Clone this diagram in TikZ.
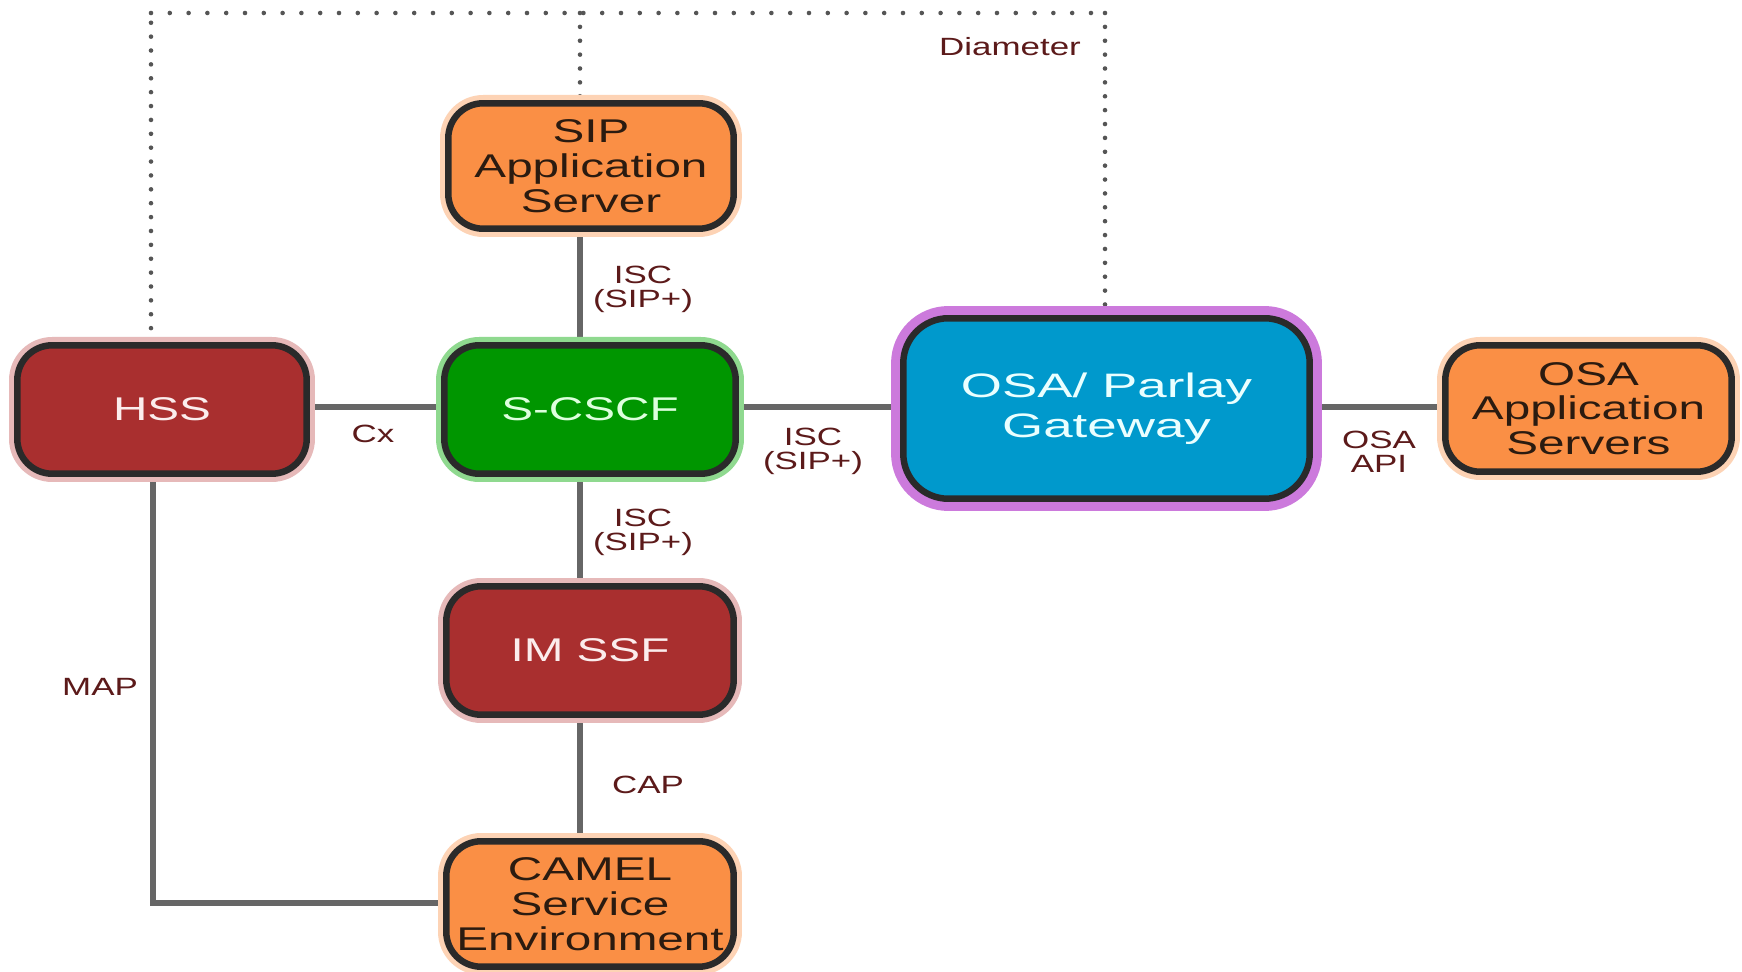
\documentclass[tikz,border=0pt]{standalone}
\usepackage{fontspec}
\setmainfont{Liberation Sans}
\newfontfamily\boxfont[FakeStretch=1.45]{Liberation Sans}
\newfontfamily\gwfont[FakeStretch=1.56]{Liberation Sans}
\newfontfamily\lblfont[FakeStretch=1.4]{Liberation Sans}
\usetikzlibrary{backgrounds}
\definecolor{bordercol}{HTML}{2A2A2A}
\definecolor{hssred}{HTML}{A92F2F}
\definecolor{hssglow}{HTML}{E6B9B9}
\definecolor{cscfgreen}{HTML}{009600}
\definecolor{greenglow}{HTML}{8FD98F}
\definecolor{asorange}{HTML}{FA8F45}
\definecolor{orangeglow}{HTML}{FDD3B5}
\definecolor{gwblue}{HTML}{0099CC}
\definecolor{gwpurple}{HTML}{CC7ADC}
\definecolor{linegray}{HTML}{666666}
\definecolor{dotgray}{HTML}{555555}
\definecolor{lblcol}{HTML}{5C1A1A}
\definecolor{lighttext}{HTML}{FBEDED}
\definecolor{greentext}{HTML}{DDFFDD}
\definecolor{bluetext}{HTML}{EAFFFF}
\definecolor{darktext}{HTML}{2B1B10}
\tikzset{
  boxbase/.style={rectangle, rounded corners=0.7cm, draw=bordercol, line width=3.7pt,
    inner sep=0pt, align=center, font=\boxfont\fontsize{18.7}{19.8}\selectfont},
  redbox/.style={boxbase, fill=hssred, text=lighttext,
    preaction={draw=hssglow, line width=9.4pt}},
  greenbox/.style={boxbase, fill=cscfgreen, text=greentext,
    preaction={draw=greenglow, line width=9.4pt}},
  orangebox/.style={boxbase, fill=asorange, text=darktext,
    preaction={draw=orangeglow, line width=9.4pt}},
  gwbox/.style={boxbase, rounded corners=0.9cm, fill=gwblue, text=bluetext,
    font=\gwfont\fontsize{19.3}{22.7}\selectfont,
    preaction={draw=gwpurple, line width=13.9pt}},
  link/.style={draw=linegray, line width=3.7pt},
  dotsH/.style={draw=dotgray, line width=2.6pt, line cap=round, dash pattern=on 0pt off 10.7pt},
  dotsV/.style={draw=dotgray, line width=2.6pt, line cap=round, dash pattern=on 0pt off 7.9pt},
  lbl/.style={inner sep=0pt, align=center, text=lblcol,
    font=\lblfont\fontsize{14.2}{13.6}\selectfont}
}
\begin{document}
\begin{tikzpicture}[x=0.02cm, y=-0.02cm]
\useasboundingbox (0,0) rectangle (1742,972);

\node[orangebox, minimum width=5.71cm, minimum height=2.51cm] (sip) at (591,166) {SIP\\Application\\Server};
\node[redbox, minimum width=5.79cm, minimum height=2.57cm] (hss) at (162,409.5) {HSS};
\node[greenbox, minimum width=5.83cm, minimum height=2.57cm] (scscf) at (590,409.5) {S-CSCF};
\node[gwbox, minimum width=8.13cm, minimum height=3.61cm] (gw) at (1106.5,408.5) {OSA/ Parlay\\Gateway};
\node[orangebox, minimum width=5.73cm, minimum height=2.53cm] (osaas) at (1588.5,408.5) {OSA\\Application\\Servers};
\node[redbox, minimum width=5.75cm, minimum height=2.57cm] (imssf) at (590,650.5) {IM SSF};
\node[orangebox, minimum width=5.75cm, minimum height=2.51cm] (camel) at (590,904) {CAMEL\\Service\\Environment};

\coordinate (vx) at (580,0);
\coordinate (hy) at (0,407);
\coordinate (hx) at (153,903);
\coordinate (tl) at (151,13);
\coordinate (tm) at (580,13);
\coordinate (tr) at (1105,13);

\begin{scope}[on background layer]
\fill[white] (0,0) rectangle (1742,972);
\draw[link] (sip.south -| vx) -- (scscf.north -| vx);
\draw[link] (scscf.south -| vx) -- (imssf.north -| vx);
\draw[link] (imssf.south -| vx) -- (camel.north -| vx);
\draw[link] (hss.east |- hy) -- (scscf.west |- hy);
\draw[link] (scscf.east |- hy) -- (gw.west |- hy);
\draw[link] (gw.east |- hy) -- (osaas.west |- hy);
\draw[link] (hss.south -| hx) -- (hx) -- (camel.west |- hx);
\draw[dotsV] (hss.north -| tl) -- (tl);
\draw[dotsH] (tl) -- (tr);
\draw[dotsV] (tr) -- (gw.north -| tr);
\draw[dotsV] (tm) -- (sip.north -| tm);
\end{scope}

\node[lbl] (lcx) at (373,434) {Cx};
\node[lbl] (lisc1) at (643,289) {ISC\\(SIP+)};
\node[lbl] (lisc2) at (813,451) {ISC\\(SIP+)};
\node[lbl] (losa) at (1379,452) {OSA\\API};
\node[lbl] (lisc3) at (643,532) {ISC\\(SIP+)};
\node[lbl] (lmap) at (100,687) {MAP};
\node[lbl] (lcap) at (648,785) {CAP};
\node[lbl] (ldia) at (1010,47) {Diameter};
\end{tikzpicture}
\end{document}
